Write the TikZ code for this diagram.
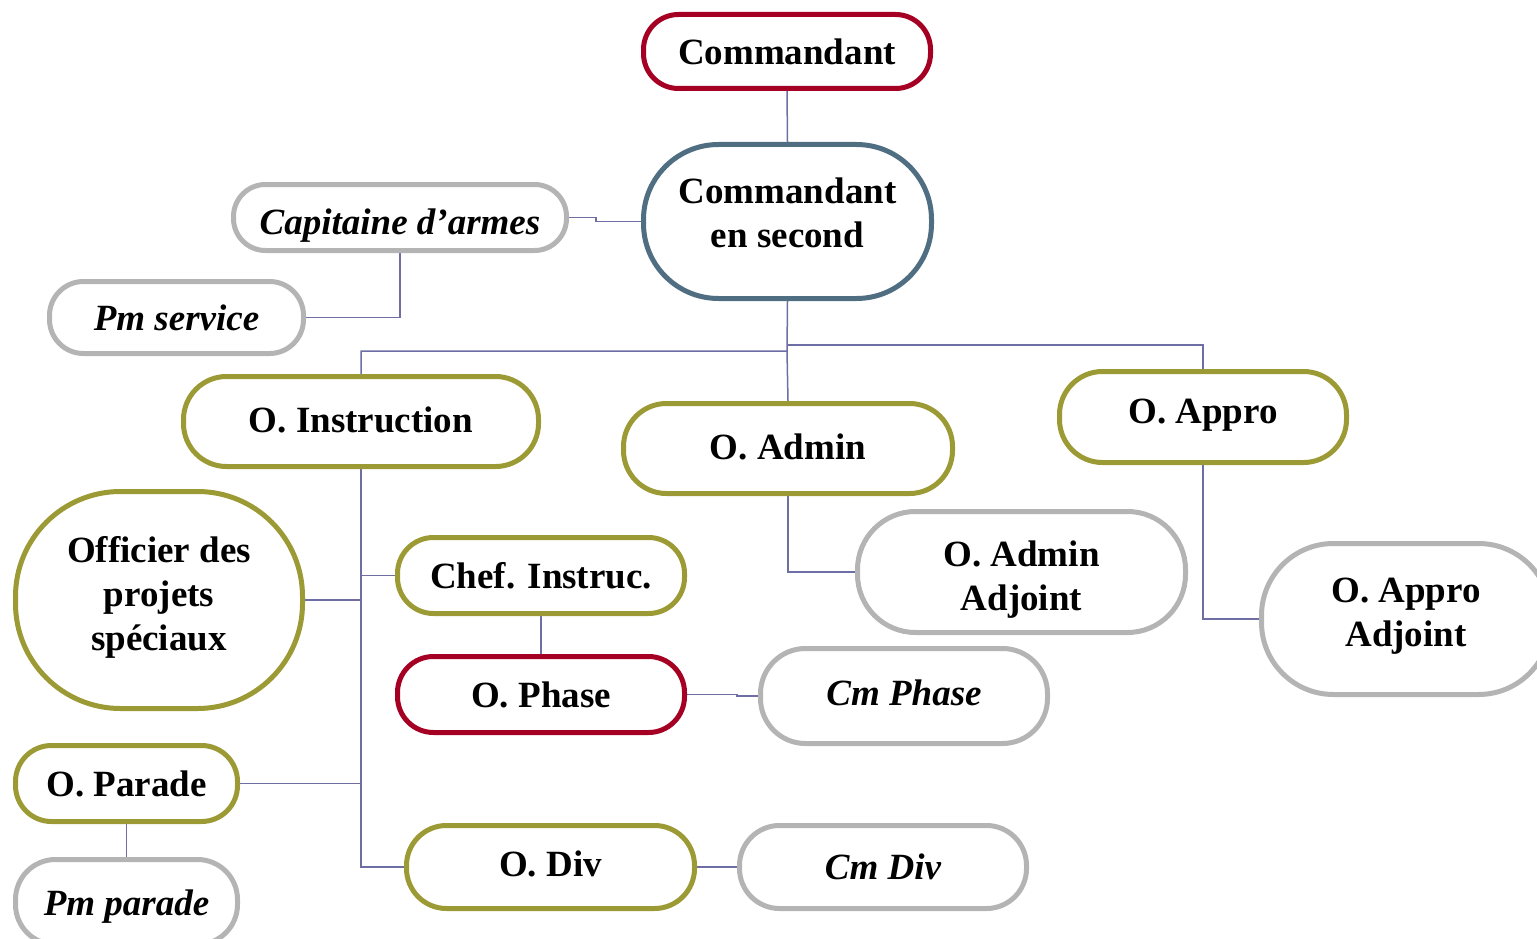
\documentclass[tikz,border=0pt]{standalone}
\usepackage{fontspec}
\setmainfont{Liberation Serif}
\usetikzlibrary{backgrounds}
\definecolor{cred}{RGB}{165,0,35}
\definecolor{cblue}{RGB}{80,110,130}
\definecolor{colive}{RGB}{156,154,52}
\definecolor{cgray}{RGB}{180,180,180}
\definecolor{cline}{RGB}{110,110,165}
\newcommand{\shiftup}[2]{\raisebox{#1}[\height][\depth]{#2}}
\tikzset{
  orgbox/.style={rectangle, line width=5pt, fill=white, inner sep=0pt, align=center,
     font=\fontsize{37}{44}\selectfont\bfseries},
  redbox/.style={orgbox, draw=cred},
  bluebox/.style={orgbox, draw=cblue},
  olivebox/.style={orgbox, draw=colive},
  graybox/.style={orgbox, draw=cgray, font=\fontsize{37}{44}\selectfont\bfseries\itshape},
  conn/.style={draw=cline, line width=1.5pt}
}
\begin{document}
\begin{tikzpicture}[x=1pt,y=-1pt]
\useasboundingbox (0,0) rectangle (1537,939);
\clip (0,0) rectangle (1537,939);
% nodes
\node[redbox, minimum width=287, minimum height=74, rounded corners=35] (cmd) at (787,51.5) {Commandant};
\node[bluebox, minimum width=288, minimum height=154, rounded corners=75] (cmd2) at (787.5,221.5) {\shiftup{5pt}{\begin{tabular}{@{}c@{}}Commandant\\en second\end{tabular}}};
\node[graybox, minimum width=333, minimum height=66, rounded corners=32] (cap) at (400,217.5) {\shiftup{-8pt}{Capitaine d’armes}};
\node[graybox, minimum width=254, minimum height=72, rounded corners=34] (pms) at (176.5,317.5) {Pm service};
\node[olivebox, minimum width=355, minimum height=90, rounded corners=43] (oins) at (361,421.5) {\shiftup{2pt}{O. Instruction}};
\node[olivebox, minimum width=329, minimum height=90, rounded corners=43] (oadm) at (788,448.5) {\shiftup{2pt}{O. Admin}};
\node[olivebox, minimum width=287, minimum height=91, rounded corners=43] (oapp) at (1203,417) {\shiftup{2pt}{O. Appro}};
\node[olivebox, minimum width=287, minimum height=217, rounded corners=105] (offi) at (159,600) {\shiftup{2pt}{\begin{tabular}{@{}c@{}}Officier des\\projets\\spéciaux\end{tabular}}};
\node[olivebox, minimum width=287, minimum height=76, rounded corners=36] (chef) at (541,575.5) {Chef. Instruc.};
\node[redbox, minimum width=287, minimum height=76, rounded corners=36] (ophase) at (541,694.5) {O. Phase};
\node[graybox, minimum width=287, minimum height=95, rounded corners=45] (cmph) at (904,696) {\shiftup{3pt}{Cm Phase}};
\node[graybox, minimum width=328, minimum height=121, rounded corners=58, font=\fontsize{37}{44}\selectfont\bfseries] (oaa) at (1021.5,572) {\shiftup{-8pt}{\begin{tabular}{@{}c@{}}O. Admin\\Adjoint\end{tabular}}};
\node[graybox, minimum width=289, minimum height=151, rounded corners=72, font=\fontsize{37}{44}\selectfont\bfseries] (oappa) at (1406,619) {\shiftup{3pt}{\begin{tabular}{@{}c@{}}O. Appro\\Adjoint\end{tabular}}};
\node[olivebox, minimum width=222, minimum height=76, rounded corners=36] (opar) at (126.5,783.5) {O. Parade};
\node[graybox, minimum width=222, minimum height=85, rounded corners=40] (pmp) at (126.5,902) {\shiftup{-5pt}{Pm parade}};
\node[olivebox, minimum width=288, minimum height=83, rounded corners=40] (odiv) at (550.5,867) {\shiftup{3pt}{O. Div}};
\node[graybox, minimum width=287, minimum height=83, rounded corners=40] (cmdiv) at (883,867) {Cm Div};
% junctions
\coordinate (j1) at (787,351);
\coordinate (j2) at (787,345);
\begin{scope}[on background layer]
\draw[conn] (cmd.south) -- (cmd2.north);
\draw[conn] (cap.east) -- ++(27,0) |- (cmd2.west);
\draw[conn] (cap.south) |- (pms.east);
\draw[conn] (cmd2.south) -- (j1) -| (oins.north);
\draw[conn] (j1) -- (oadm.north);
\draw[conn] (j2) -| (oapp.north);
\draw[conn] (oins.south) |- (odiv.west);
\draw[conn] (chef.west) -- (chef.west -| oins.south);
\draw[conn] (offi.east) -- (offi.east -| oins.south);
\draw[conn] (opar.east) -- (opar.east -| oins.south);
\draw[conn] (chef.south) -- (ophase.north);
\draw[conn] (ophase.east) -- ++(50,0) |- (cmph.west);
\draw[conn] (oadm.south) |- (oaa.west);
\draw[conn] (oapp.south) |- (oappa.west);
\draw[conn] (opar.south) -- (pmp.north);
\draw[conn] (odiv.east) -- (cmdiv.west);
\end{scope}
\end{tikzpicture}
\end{document}
